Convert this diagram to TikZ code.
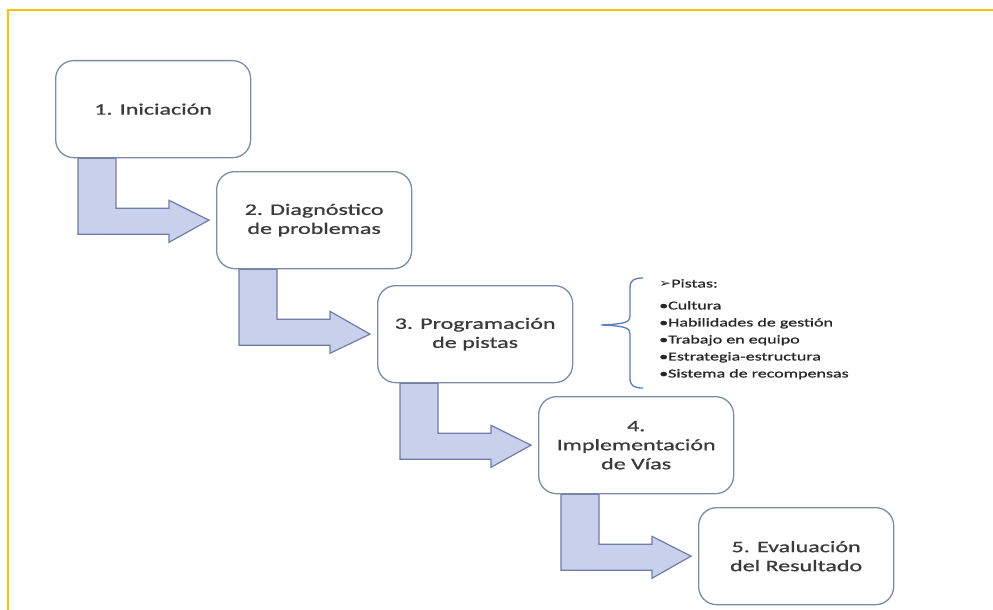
\documentclass[tikz,border=0pt]{standalone}
\usepackage{fontspec}
\setmainfont[FakeStretch=1.5,FakeBold=0.8]{Carlito}
\newfontfamily\symfont[FakeStretch=1.2]{DejaVu Sans}
\usetikzlibrary{calc,backgrounds}
\definecolor{framec}{HTML}{FFC000}
\definecolor{boxline}{HTML}{7D8BA6}
\definecolor{arrfill}{HTML}{C8D0EC}
\definecolor{arrline}{HTML}{6E7DAA}
\definecolor{txt}{HTML}{3A3A3A}
\definecolor{sidetxt}{HTML}{262626}
\definecolor{bracec}{HTML}{5A7DBE}
\newcommand{\bentarrow}[2]{%
  \draw[flow] let \p1=(#1.south west), \p2=(#2.west) in
    (\x1+23pt,\y1) -- (\x1+23pt,\y1-76pt) -- (\x1+114pt,\y1-76pt)
    -- (\x1+114pt,\y1-84pt) -- (\x2-7pt,\y2) -- (\x1+114pt,\y1-42pt)
    -- (\x1+114pt,\y1-50pt) -- (\x1+61pt,\y1-50pt) -- (\x1+61pt,\y1) -- cycle;}
\begin{document}
\begin{tikzpicture}[x=1pt,y=-1pt,
  stepbox/.style={draw=boxline, line width=1.3pt, fill=white, rounded corners=18pt,
    minimum width=195pt, minimum height=97pt, anchor=north west, align=center,
    text=txt, font=\fontsize{16}{19}\selectfont, inner sep=0pt},
  flow/.style={draw=arrline, fill=arrfill, line width=1.2pt, line join=miter},
  sidebox/.style={anchor=north west, align=left, inner sep=0pt, text=sidetxt,
    font=\fontsize{12}{17}\selectfont},
  bracestyle/.style={draw=bracec, line width=1.3pt}]
\useasboundingbox (0,0) rectangle (993,610);
\draw[framec, line width=1.6pt] (8,610) -- (8,10) -- (993,10);

\node[stepbox] (b1) at (55,60) {1. Iniciación};
\node[stepbox] (b2) at (216,171) {2. Diagnóstico\\de problemas};
\node[stepbox] (b3) at (377,285) {3. Programación\\de pistas};
\node[stepbox] (b4) at (538,396) {4.\\Implementación\\de Vías};
\node[stepbox] (b5) at (698,507) {5. Evaluación\\del Resultado};

\begin{scope}[on background layer]
\bentarrow{b1}{b2}
\bentarrow{b2}{b3}
\bentarrow{b3}{b4}
\bentarrow{b4}{b5}
\end{scope}

\draw[bracestyle] (643,278) .. controls (634,278) and (630,280) .. (630,288)
  -- (630,316) .. controls (630,322) and (626,324) .. (601,325)
  .. controls (626,326) and (630,328) .. (630,334)
  -- (630,378) .. controls (630,386) and (634,388) .. (643,388);

\node[sidebox] (side) at (659,279) {{\symfont\fontsize{12}{17}\selectfont ➢}Pistas:\\[5pt]
•Cultura\\
•Habilidades de gestión\\
•Trabajo en equipo\\
•Estrategia-estructura\\
•Sistema de recompensas};
\end{tikzpicture}
\end{document}
